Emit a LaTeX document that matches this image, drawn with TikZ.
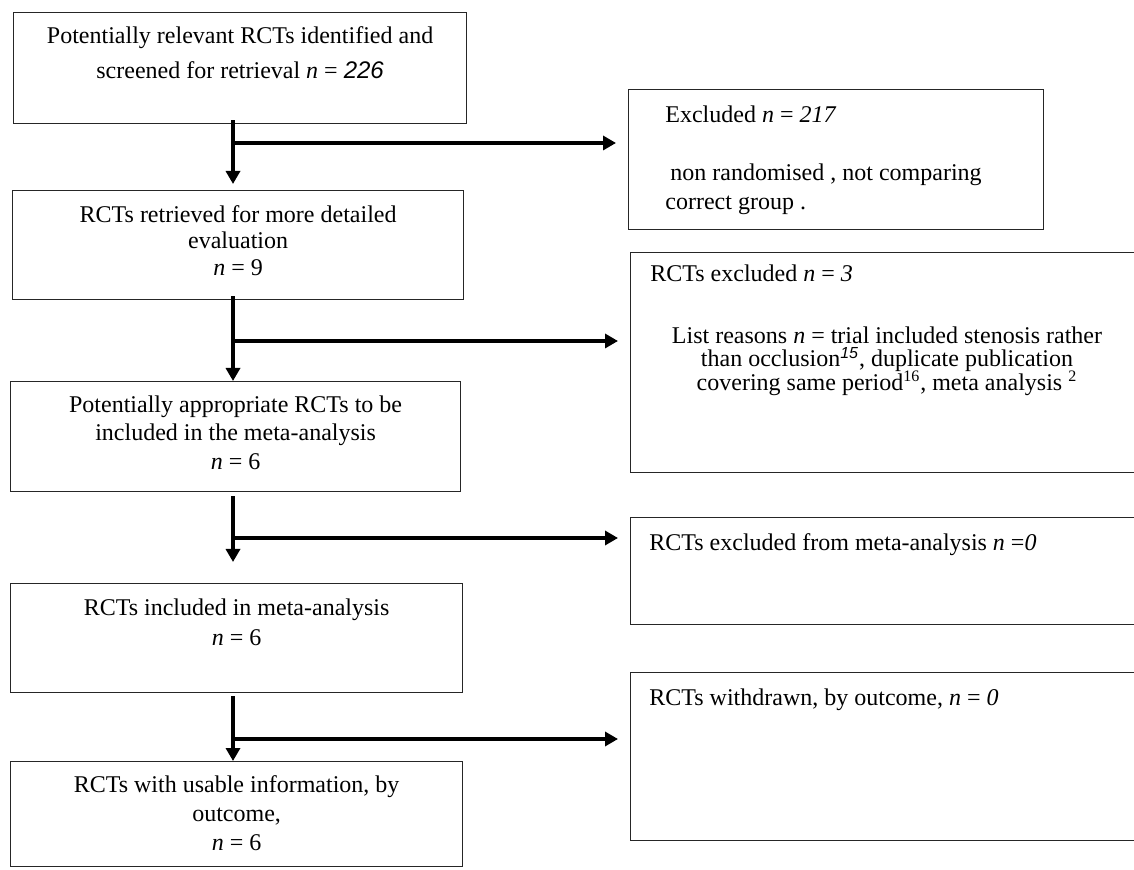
\documentclass[tikz,border=0pt]{standalone}
\usepackage{fontspec}
\setmainfont{Liberation Serif}
\setsansfont{Liberation Sans}
\usetikzlibrary{positioning, arrows.meta, calc}

\begin{document}
\begin{tikzpicture}[x=0.5pt, y=-0.5pt,
                    box/.style={draw=black!85, line width=0.6pt, inner sep=0pt, anchor=north west},
                    txt/.style={inner sep=0pt, anchor=north, align=center},
                    ltxt/.style={inner sep=0pt, anchor=north west, align=left},
                    flow/.style={line width=2pt, -{Triangle[length=6.5pt, width=7pt]}},
                    side/.style={line width=1.7pt, shorten >=6pt, -{Triangle[length=6.5pt, width=7pt]}}]

    \useasboundingbox (0,0) rectangle (1134,870);

    % Node Placements
    \node[box, minimum width=226.5pt, minimum height=55.5pt] (B1) at (13,12)  {};
    \node[box, minimum width=225.5pt, minimum height=54.5pt] (B2) at (12,190) {};
    \node[box, minimum width=225pt,   minimum height=55pt]   (B3) at (10,381) {};
    \node[box, minimum width=226pt,   minimum height=54.5pt] (B4) at (10,583) {};
    \node[box, minimum width=226pt,   minimum height=52.5pt] (B5) at (10,761) {};

    \node[box, minimum width=207.5pt, minimum height=70pt]   (X1) at (628,89)  {};
    \node[box, minimum width=260pt,   minimum height=110pt]  (X2) at (630,252) {};
    \node[box, minimum width=260pt,   minimum height=53.5pt] (X3) at (630,517) {};
    \node[box, minimum width=260pt,   minimum height=84pt]   (X4) at (630,672) {};

    % Box Texts
    \node[txt, font=\fontsize{12pt}{17.5pt}\selectfont] (T1) at ($(B1.north)+(0,14)$)
        {Potentially relevant RCTs identified and\\
         screened for retrieval \textit{n} = {\sffamily\itshape 226}};
    \node[txt, font=\fontsize{12pt}{13.25pt}\selectfont] (T2) at ($(B2.north)+(0,15)$)
        {RCTs retrieved for more detailed\\ evaluation\\ \textit{n} = 9};
    \node[txt, font=\fontsize{12pt}{14.25pt}\selectfont] (T3) at ($(B3.north)+(0,14)$)
        {Potentially appropriate RCTs to be\\ included in the meta-analysis\\ \textit{n} = 6};
    \node[txt, font=\fontsize{12pt}{15pt}\selectfont] (T4) at ($(B4.north)+(0,15)$)
        {RCTs included in meta-analysis\\ \textit{n} = 6};
    \node[txt, font=\fontsize{12pt}{14.5pt}\selectfont] (T5) at ($(B5.north)+(0,14)$)
        {RCTs with usable information, by\\ outcome,\\ \textit{n} = 6};

    \node[ltxt, font=\fontsize{12pt}{14.5pt}\selectfont] (E1) at (665,105)
        {Excluded \textit{n} = \textit{217}\\[14.5pt]
         \hspace{2.5pt}non randomised , not comparing\\ correct group .};
    \node[ltxt, font=\fontsize{12pt}{14.5pt}\selectfont] (E2) at (650,264)
        {RCTs excluded \textit{n} = \textit{3}};
    \node[txt, font={\fontsize{12pt}{11.9pt}\selectfont\lineskiplimit=-20pt}] (E2r) at (887,326)
        {List reasons \textit{n} = trial included stenosis rather\\
         than occlusion\textsuperscript{\sffamily\itshape 15}, duplicate publication\\
         covering same period\textsuperscript{16}, meta analysis \textsuperscript{2}};
    \node[ltxt, font=\fontsize{12pt}{14.5pt}\selectfont] (E3) at (649,533)
        {RCTs excluded from meta-analysis \textit{n} =\textit{0}};
    \node[ltxt, font=\fontsize{12pt}{14.5pt}\selectfont] (E4) at (649,688)
        {RCTs withdrawn, by outcome, \textit{n} = \textit{0}};

    % Branch Points
    \coordinate (J1) at (233,143);
    \coordinate (J2) at (233,341);
    \coordinate (J3) at (233,538);
    \coordinate (J4) at (233,739);

    % Graph Path Operations
    \draw[flow, shorten <=-2pt, shorten >=3pt]   (B1.south -| J1) -- (B2.north -| J1);
    \draw[flow, shorten <=-2pt]                  (B2.south -| J2) -- (B3.north -| J2);
    \draw[flow, shorten <=2pt, shorten >=10.5pt] (B3.south -| J3) -- (B4.north -| J3);
    \draw[flow, shorten <=1.5pt]                 (B4.south -| J4) -- (B5.north -| J4);

    \draw[side] (J1) -- (J1 -| X1.west);
    \draw[side] (J2) -- (J2 -| X2.west);
    \draw[side] (J3) -- (J3 -| X3.west);
    \draw[side] (J4) -- (J4 -| X4.west);
\end{tikzpicture}
\end{document}
